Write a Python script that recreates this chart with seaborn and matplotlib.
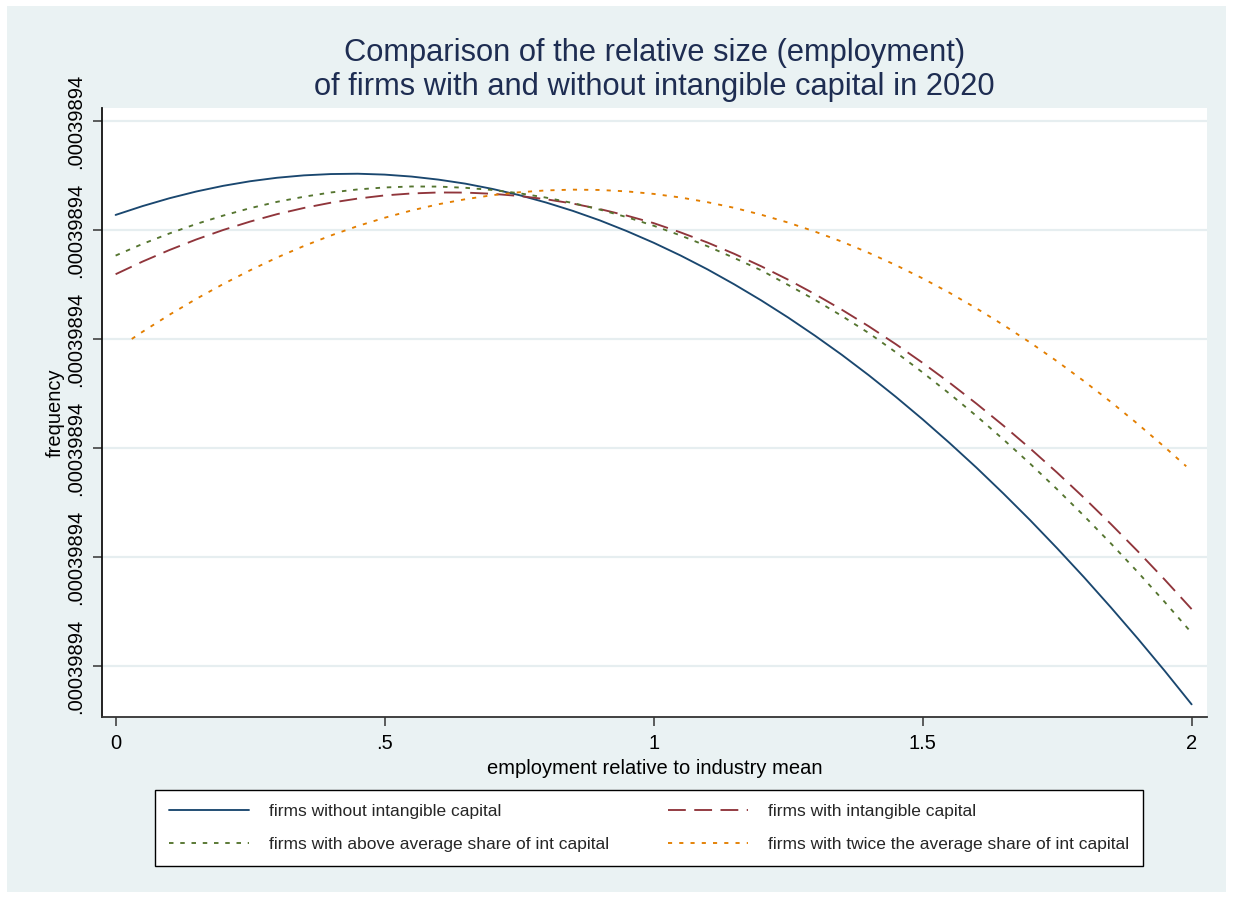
import numpy as np
import pandas as pd
import matplotlib
matplotlib.use("Agg")
import matplotlib.pyplot as plt
from matplotlib.patches import Rectangle
from matplotlib.ticker import FixedLocator, FuncFormatter
import seaborn as sns

# Kernel density estimates of relative firm size.  The four densities differ
# only far beyond the 8th decimal, so they are stored as offsets (in steps of
# DENSITY_STEP) above a common base value.
DENSITY_BASE = 0.00039894
DENSITY_STEP = 1e-13

x_grid = [0.00, 0.05, 0.10, 0.15, 0.20, 0.25, 0.30, 0.35, 0.40, 0.45,
          0.50, 0.55, 0.60, 0.65, 0.70, 0.75, 0.80, 0.85, 0.90, 0.95,
          1.00, 1.05, 1.10, 1.15, 1.20, 1.25, 1.30, 1.35, 1.40, 1.45,
          1.50, 1.55, 1.60, 1.65, 1.70, 1.75, 1.80, 1.85, 1.90, 1.95, 2.00]

without_int = [4.138, 4.219, 4.291, 4.353, 4.405, 4.447, 4.479, 4.501, 4.513,
               4.516, 4.508, 4.490, 4.462, 4.425, 4.377, 4.320, 4.252, 4.175,
               4.088, 3.990, 3.883, 3.766, 3.639, 3.501, 3.354, 3.197, 3.030,
               2.854, 2.667, 2.470, 2.263, 2.046, 1.820, 1.583, 1.337, 1.080,
               0.814, 0.537, 0.251, -0.045, -0.352]

with_int = [3.594, 3.710, 3.816, 3.913, 4.000, 4.077, 4.145, 4.202, 4.250,
            4.288, 4.317, 4.335, 4.344, 4.343, 4.332, 4.312, 4.282, 4.242,
            4.192, 4.132, 4.063, 3.978, 3.885, 3.781, 3.667, 3.544, 3.411,
            3.268, 3.116, 2.953, 2.781, 2.599, 2.407, 2.206, 1.995, 1.774,
            1.543, 1.302, 1.052, 0.792, 0.522]

above_avg = [3.765, 3.872, 3.968, 4.055, 4.132, 4.200, 4.258, 4.305, 4.344,
             4.372, 4.390, 4.399, 4.398, 4.387, 4.367, 4.337, 4.297, 4.247,
             4.187, 4.118, 4.039, 3.950, 3.851, 3.743, 3.630, 3.496, 3.359,
             3.211, 3.054, 2.879, 2.693, 2.498, 2.294, 2.079, 1.855, 1.621,
             1.377, 1.124, 0.861, 0.587, 0.304]

x_twice = [0.03, 0.05, 0.10, 0.15, 0.20, 0.25, 0.30, 0.35, 0.40, 0.45,
           0.50, 0.55, 0.60, 0.65, 0.70, 0.75, 0.80, 0.85, 0.90, 0.95,
           1.00, 1.05, 1.10, 1.15, 1.20, 1.25, 1.30, 1.35, 1.40, 1.45,
           1.50, 1.55, 1.60, 1.65, 1.70, 1.75, 1.80, 1.85, 1.90, 1.95, 1.99]

twice_avg = [3.000, 3.066, 3.222, 3.368, 3.504, 3.630, 3.747, 3.853, 3.949,
             4.036, 4.112, 4.179, 4.236, 4.282, 4.319, 4.346, 4.363, 4.370,
             4.367, 4.354, 4.331, 4.298, 4.255, 4.203, 4.140, 4.068, 3.985,
             3.893, 3.790, 3.678, 3.556, 3.424, 3.281, 3.129, 2.967, 2.795,
             2.613, 2.422, 2.220, 2.008, 1.832]

series_labels = ["firms without intangible capital",
                 "firms with intangible capital",
                 "firms with above average share of int capital",
                 "firms with twice the average share of int capital"]

x_ticks = [0, 0.5, 1, 1.5, 2]
x_tick_labels = ["0", ".5", "1", "1.5", "2"]
y_tick_steps = [0, 1, 2, 3, 4, 5]

title_text = ("Comparison of the relative size (employment)\n"
              "of firms with and without intangible capital in 2020")
x_label = "employment relative to industry mean"
y_label = "frequency"

# Stata s2color-like palette and line patterns
colors = ["#1a476f", "#90353b", "#55752f", "#e37e00"]
patterns = ["-", (0, (9.5, 4.5)), (0, (2.4, 3.6)), (0, (2.2, 3.8))]
BG = "#eaf2f3"
GRID = "#e6eef0"

sns.set_theme(style="white")
plt.rcParams["font.family"] = ["Liberation Sans", "DejaVu Sans"]

W, H = 1233, 898
fig = plt.figure(figsize=(W / 100, H / 100), dpi=100)
fig.patch.set_facecolor("white")
fig.patches.append(Rectangle((7 / W, 6 / H), (1226 - 7) / W, (892 - 6) / H,
                             transform=fig.transFigure, facecolor=BG,
                             edgecolor="none", zorder=-10))

ax = fig.add_axes([102 / W, 1 - 717 / H, (1207 - 102) / W, (717 - 108) / H])
ax.set_zorder(1)
ax.set_facecolor("white")


def to_density(offsets):
    return DENSITY_BASE + np.asarray(offsets) * DENSITY_STEP


frames = [
    pd.DataFrame({"x": x_grid, "y": to_density(without_int)}),
    pd.DataFrame({"x": x_grid, "y": to_density(with_int)}),
    pd.DataFrame({"x": x_grid, "y": to_density(above_avg)}),
    pd.DataFrame({"x": x_twice, "y": to_density(twice_avg)}),
]

for df, lab, col, ls in zip(frames, series_labels, colors, patterns):
    sns.lineplot(data=df, x="x", y="y", ax=ax, color=col, linestyle=ls,
                 linewidth=1.35, label=lab, sort=True, errorbar=None)

if ax.get_legend() is not None:
    ax.get_legend().remove()

ax.set_xlim(-0.0253, 2.0286)
ax.set_ylim(DENSITY_BASE - 0.468 * DENSITY_STEP,
            DENSITY_BASE + 5.119 * DENSITY_STEP)

ax.xaxis.set_major_locator(FixedLocator(x_ticks))
ax.set_xticklabels(x_tick_labels)
ax.yaxis.set_major_locator(FixedLocator(list(to_density(y_tick_steps))))
ax.yaxis.set_major_formatter(FuncFormatter(lambda v, p: f"{v:.8f}".lstrip("0")))

ax.grid(axis="y", color=GRID, linewidth=1.6)
ax.grid(axis="x", visible=False)
ax.set_axisbelow(True)

for side in ["top", "right"]:
    ax.spines[side].set_visible(False)
ax.spines["left"].set_color("#111111")
ax.spines["left"].set_linewidth(1.3)
ax.spines["bottom"].set_color("#333333")
ax.spines["bottom"].set_linewidth(1.3)

ax.tick_params(axis="both", which="major", direction="out", length=6.5,
               width=1.1, color="#333333", labelsize=14.5, labelcolor="black",
               bottom=True, left=True, top=False, right=False)
ax.tick_params(axis="x", pad=6)
ax.tick_params(axis="y", pad=6)
for t in ax.get_yticklabels():
    t.set_rotation(90)
    t.set_va("center")
    t.set_ha("right")

ax.set_xlabel(x_label, fontsize=14.5, color="black", labelpad=4)
ax.set_ylabel(y_label, fontsize=14.5, color="black", labelpad=0.5)

fig.text(654.5 / W, 1 - 70 / H, title_text, ha="center", va="center",
         fontsize=22.2, color="#1e2d52", linespacing=1.15)

# legend laid out row-wise: (without, with) then (above average, twice)
handles, _ = ax.get_legend_handles_labels()
order = [0, 2, 1, 3]
leg = fig.legend([handles[i] for i in order],
                 [series_labels[i] for i in order], ncol=2,
                 loc="upper left", bbox_to_anchor=(155 / W, 1 - 790 / H),
                 fontsize=12.5, handlelength=4.6, handletextpad=1.15,
                 columnspacing=3.4, labelspacing=1.05, borderpad=0.8,
                 borderaxespad=0, frameon=True, fancybox=False)
leg.set_zorder(2)
leg.get_frame().set_edgecolor("black")
leg.get_frame().set_linewidth(1.0)
leg.get_frame().set_facecolor("white")
leg.get_frame().set_alpha(1)

fig.savefig("out.png", dpi=100, facecolor=fig.get_facecolor())
